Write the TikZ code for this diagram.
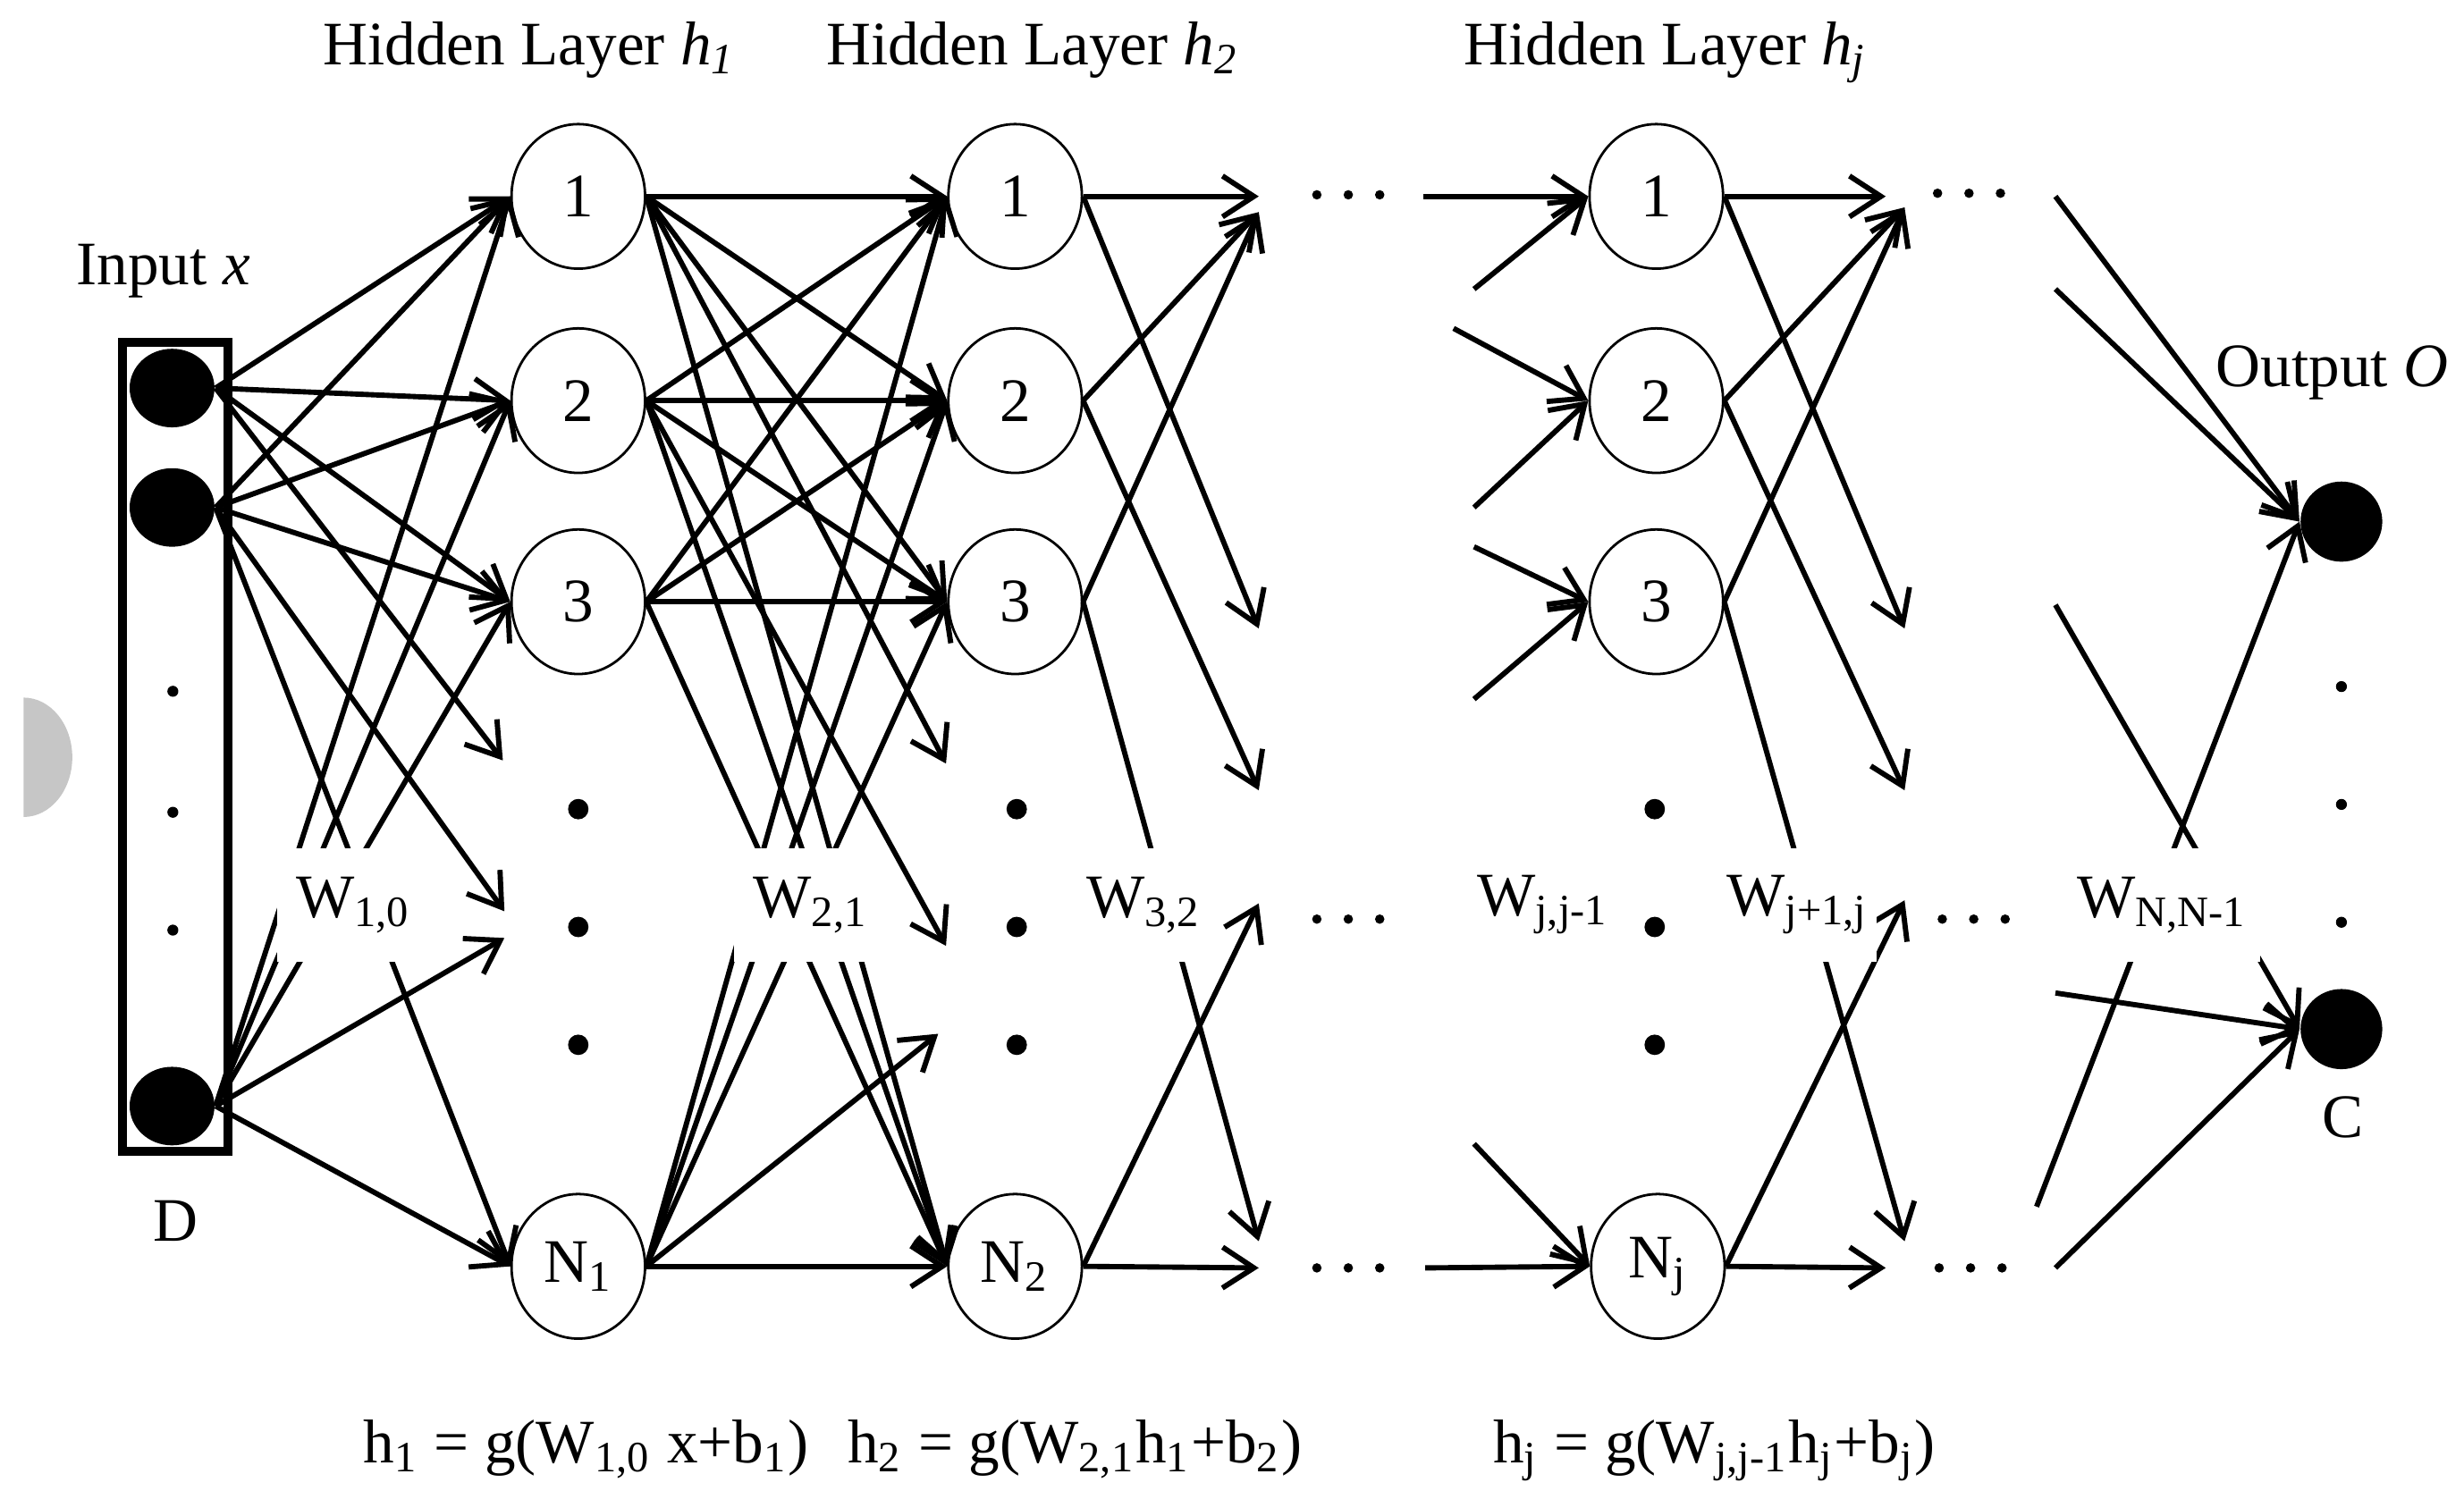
\documentclass[tikz,border=0pt]{standalone}
\usepackage{fontspec}
\setmainfont{Liberation Serif}
\usetikzlibrary{arrows.meta,shapes.geometric}

\begin{document}
\begin{tikzpicture}[
  x=0.1mm, y=-0.1mm,
  every node/.style={font=\fontsize{11.2}{13.4}\selectfont},
  unit/.style={draw, ellipse, line width=0.45pt, minimum width=8.5mm, minimum height=9.2mm, inner sep=0pt},
  port/.style={fill, ellipse, minimum width=5.4mm, minimum height=5.0mm, inner sep=0pt},
  arr/.style={-{Straight Barb[length=2mm,width=2.6mm]}, line width=0.95pt},
  wlab/.style={fill=white, inner xsep=1.2mm, inner ysep=0pt, minimum height=7.2mm}
]
\useasboundingbox (0,0) rectangle (1568,949);
\fill[gray!45] (15,444) arc[start angle=90, end angle=-90, x radius=3.1mm, y radius=3.8mm] -- cycle;

% titles
\node[anchor=base] (tone) at (337,41) {Hidden Layer \textit{h\textsubscript{1}}};
\node[anchor=base] (ttwo) at (657,41) {Hidden Layer \textit{h\textsubscript{2}}};
\node[anchor=base] (tj) at (1060,41) {Hidden Layer \textit{h\textsubscript{j}}};
\node[anchor=base] (tin) at (104,181) {Input \textit{x}};
\node[anchor=base] (tout) at (1484,246) {Output \textit{O}};

% input column
\node[draw, line width=1.6pt, minimum width=6.74mm, minimum height=51.5mm, inner sep=0pt] (inbox) at (111.5,475.5) {};
\node[port] (x1) at (109.5,247) {};
\node[port] (x2) at (109.5,323) {};
\node[port] (xD) at (109.5,704) {};
\foreach \y in {440,517,592} \fill (110,\y) circle[radius=0.35mm];
\node[anchor=base] (lD) at (112,790) {D};

% hidden layers
\node[unit] (l1n1) at (368,125) {1};
\node[unit] (l1n2) at (368,255) {2};
\node[unit] (l1n3) at (368,383) {3};
\node[unit] (l1nN) at (368,806) {N\textsubscript{1}};
\node[unit] (l2n1) at (646,125) {1};
\node[unit] (l2n2) at (646,255) {2};
\node[unit] (l2n3) at (646,383) {3};
\node[unit] (l2nN) at (646,806) {N\textsubscript{2}};
\node[unit] (ljn1) at (1054,125) {1};
\node[unit] (ljn2) at (1054,255) {2};
\node[unit] (ljn3) at (1054,383) {3};
\node[unit] (ljnN) at (1055,806) {N\textsubscript{j}};
\foreach \x in {368,647,1053} \foreach \y in {515,590,665} \fill (\x,\y) circle[radius=0.65mm];

% output column
\node[port, minimum width=5.2mm, minimum height=5.1mm] (o1) at (1490,332) {};
\node[port, minimum width=5.2mm, minimum height=5.1mm] (oC) at (1490,655) {};
\foreach \y in {437,512,587} \fill (1490,\y) circle[radius=0.35mm];
\node[anchor=base] (lC) at (1491,724) {C};

% ellipses between layers
\foreach \x/\y in {858/124, 858/585, 858/807, 1253/123, 1256/585, 1254/807}
  \foreach \d in {-20,0,20} \fill (\x+\d,\y) circle[radius=0.3mm];

% free ends
\coordinate (l1a) at (320,484);
\coordinate (l1b) at (321,580);
\coordinate (l1c) at (321,597);
\coordinate (l2a) at (602,486);
\coordinate (l2b) at (602,602);
\coordinate (l2c) at (597,658);
\coordinate (m1h) at (801,125);
\coordinate (m1) at (801,135);
\coordinate (m2) at (801,400);
\coordinate (m3) at (801,503);
\coordinate (m4) at (801,575);
\coordinate (m5) at (801,790);
\coordinate (m6) at (801,807);
\coordinate (f1) at (906,125);
\coordinate (f2) at (938,184);
\coordinate (f3) at (925,209);
\coordinate (f4) at (938,323);
\coordinate (f5) at (938,348);
\coordinate (f6) at (938,445);
\coordinate (f7) at (938,728);
\coordinate (f8) at (907,807);
\coordinate (r1h) at (1200,125);
\coordinate (r1) at (1212,132);
\coordinate (r2) at (1212,400);
\coordinate (r3) at (1212,503);
\coordinate (r4) at (1212,573);
\coordinate (r5) at (1212,790);
\coordinate (r6) at (1200,807);
\coordinate (g1) at (1308,125);
\coordinate (g2) at (1308,184);
\coordinate (g3) at (1308,385);
\coordinate (g4) at (1296,768);
\coordinate (g5) at (1308,632);
\coordinate (g6) at (1308,807);

% input -> h1
\foreach \s in {x1,x2,xD} \foreach \t in {l1n1,l1n2,l1n3} \draw[arr] (\s.east) -- (\t.west);
\draw[arr] (x1.east) -- (l1a);
\draw[arr] (x2.east) -- (l1b);
\draw[arr] (xD.east) -- (l1c);
\draw[arr] (x2.east) -- (l1nN.west);
\draw[arr] (xD.east) -- (l1nN.west);

% h1 -> h2
\foreach \s in {l1n1,l1n2,l1n3,l1nN} \foreach \t in {l2n1,l2n2,l2n3} \draw[arr] (\s.east) -- (\t.west);
\draw[arr] (l1n1.east) -- (l2a);
\draw[arr] (l1n2.east) -- (l2b);
\draw[arr] (l1nN.east) -- (l2c);
\foreach \s in {l1n1,l1n2,l1n3,l1nN} \draw[arr] (\s.east) -- (l2nN.west);

% h2 -> ...
\draw[arr] (l2n1.east) -- (m1h);
\draw[arr] (l2n2.east) -- (m1);
\draw[arr] (l2n3.east) -- (m1);
\draw[arr] (l2n1.east) -- (m2);
\draw[arr] (l2n2.east) -- (m3);
\draw[arr] (l2nN.east) -- (m4);
\draw[arr] (l2n3.east) -- (m5);
\draw[arr] (l2nN.east) -- (m6);

% ... -> hj
\draw[arr] (f1) -- (ljn1.west);
\draw[arr] (f2) -- (ljn1.west);
\draw[arr] (f3) -- (ljn2.west);
\draw[arr] (f4) -- (ljn2.west);
\draw[arr] (f5) -- (ljn3.west);
\draw[arr] (f6) -- (ljn3.west);
\draw[arr] (f7) -- (ljnN.west);
\draw[arr] (f8) -- (ljnN.west);

% hj -> ...
\draw[arr] (ljn1.east) -- (r1h);
\draw[arr] (ljn2.east) -- (r1);
\draw[arr] (ljn3.east) -- (r1);
\draw[arr] (ljn1.east) -- (r2);
\draw[arr] (ljn2.east) -- (r3);
\draw[arr] (ljnN.east) -- (r4);
\draw[arr] (ljn3.east) -- (r5);
\draw[arr] (ljnN.east) -- (r6);

% ... -> output
\draw[arr] (g1) -- (o1.west);
\draw[arr] (g2) -- (o1.west);
\draw[arr] (g4) -- (o1.west);
\draw[arr] (g3) -- (oC.west);
\draw[arr] (g5) -- (oC.west);
\draw[arr] (g6) -- (oC.west);

% weight labels
\node[wlab] (w10) at (225,576) {W\textsubscript{1,0}};
\node[wlab] (w21) at (516,576) {W\textsubscript{2,1}};
\node[wlab] (w32) at (728,576) {W\textsubscript{3,2}};
\node[wlab] (wjj) at (982,576) {W\textsubscript{j,j-1}};
\node[wlab, inner xsep=0.5mm] (wj1) at (1144,576) {W\textsubscript{j+1,j}};
\node[wlab, inner xsep=0.8mm] (wNN) at (1376,576) {W\textsubscript{N,N-1}};

% layer equations
\node[anchor=base] (eone) at (373,931) {h\textsubscript{1} = g(W\textsubscript{1,0} x+b\textsubscript{1})};
\node[anchor=base] (etwo) at (684,931) {h\textsubscript{2} = g(W\textsubscript{2,1}h\textsubscript{1}+b\textsubscript{2})};
\node[anchor=base] (ej) at (1091,931) {h\textsubscript{j} = g(W\textsubscript{j,j-1}h\textsubscript{j}+b\textsubscript{j})};
\end{tikzpicture}
\end{document}
